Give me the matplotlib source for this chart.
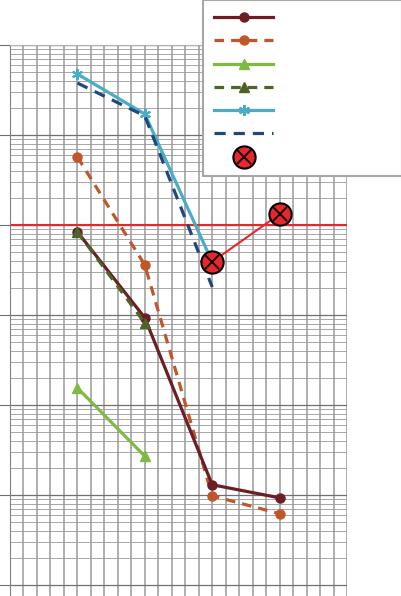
import matplotlib
matplotlib.use("Agg")
import matplotlib.pyplot as plt
import numpy as np
from matplotlib.legend_handler import HandlerTuple
from matplotlib.ticker import FixedLocator, NullFormatter

# x positions of the measurement steps
x_steps = [1, 2, 3, 4]

# series values
dark_red_vals = [8400, 930, 13, 9.3]
orange_vals = [57000, 3600, 9.8, 6.2]
light_green_vals = [155, 27]
dark_green_vals = [8400, 815]
teal_vals = [476000, 171000, 3900]
blue_vals = [378000, 163000, 2050]
fail_x = [3, 4]
fail_vals = [3900, 13200]
limit_val = 1e4

fig = plt.figure(figsize=(4.02, 5.96), dpi=100)
ax = fig.add_axes([10 / 402, 0, 337 / 402, 551 / 596])

ax.set_yscale("log")
ax.set_xlim(0, 5)
ax.set_ylim(10 ** -0.1222, 1e6)

# grid
decades = [10.0 ** k for k in range(0, 7)]
minors = [m * d for d in decades[:-1] for m in range(2, 10)]
ax.yaxis.set_major_locator(FixedLocator(decades))
ax.yaxis.set_minor_locator(FixedLocator(minors))
ax.xaxis.set_major_locator(FixedLocator(np.arange(0, 5.01, 0.2)))
ax.yaxis.set_major_formatter(NullFormatter())
ax.yaxis.set_minor_formatter(NullFormatter())
ax.xaxis.set_major_formatter(NullFormatter())
ax.grid(True, which="major", axis="y", color="#707070", lw=0.9)
ax.grid(True, which="minor", axis="y", color="#999999", lw=0.6)
ax.grid(True, which="major", axis="x", color="#9a9a9a", lw=1.1)
ax.tick_params(axis="y", which="major", length=8, width=0.8, color="#707070", direction="out")
ax.tick_params(axis="y", which="minor", length=0)
ax.tick_params(axis="x", length=0)
for s in ["right", "bottom"]:
    ax.spines[s].set_visible(False)
ax.spines["top"].set_color("#b0b0b0")
ax.spines["left"].set_color("#808080")
ax.set_axisbelow(True)

# limit line
ax.axhline(limit_val, color="#e8262c", lw=1.5, zorder=2)

lw = 2.3
h1, = ax.plot(x_steps, dark_red_vals, color="#6b1f24", lw=lw, marker="o", ms=6.5, zorder=4)
h2, = ax.plot(x_steps, orange_vals, color="#c0562a", lw=lw, ls=(0, (3, 2.2)), marker="o", ms=6.5, zorder=3)
h3, = ax.plot(x_steps[:2], light_green_vals, color="#7dbb42", lw=lw, marker="^", ms=7, zorder=3)
h4, = ax.plot(x_steps[:2], dark_green_vals, color="#4f6228", lw=lw, ls=(0, (3, 2.2)), marker="^", ms=7, zorder=5)
h5, = ax.plot(x_steps[:3], teal_vals, color="#4bacc6", lw=lw, marker=(6, 2, 0), ms=8, mew=1.5, zorder=3)
h6, = ax.plot(x_steps[:3], blue_vals, color="#1f497d", lw=lw, ls=(0, (3.5, 2.5)), zorder=3)
ax.plot(fail_x, fail_vals, color="#e8262c", lw=1.5, zorder=6)
h7a, = ax.plot(fail_x, fail_vals, ls="none", marker="o", ms=16, mfc="#e8262c", mec="black", mew=1.5, zorder=7)
h7b, = ax.plot(fail_x, fail_vals, ls="none", marker="x", ms=10, mec="black", mew=1.3, zorder=8)

leg = fig.legend([h1, h2, h3, h4, h5, h6, (h7a, h7b)], [""] * 7,
                 loc="upper left", bbox_to_anchor=(203 / 402, 0, 199 / 402, 1.0),
                 mode="expand", borderaxespad=0, fontsize=10, handlelength=4.25,
                 borderpad=0.8, labelspacing=0.665, numpoints=1, frameon=True,
                 fancybox=False, framealpha=1,
                 handler_map={tuple: HandlerTuple(ndivide=1, pad=0)})
leg.get_frame().set_edgecolor("#a6a6a6")
leg.get_frame().set_linewidth(1.5)

fig.savefig("out.png", dpi=100)
